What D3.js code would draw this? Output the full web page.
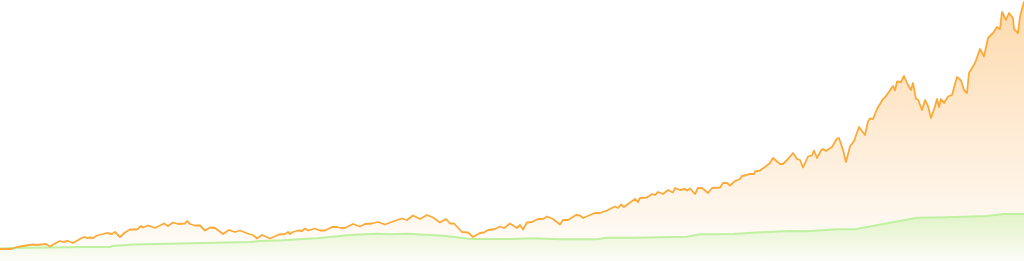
<!DOCTYPE html>
<html>
<head>
<meta charset="utf-8">
<script src="https://cdn.jsdelivr.net/npm/d3@7"></script>
<style>
  html, body { margin: 0; padding: 0; background: #fff; overflow: hidden; }
  svg { display: block; }
</style>
</head>
<body>
<svg id="chart"></svg>
<script>
// week index of each sample
const valueWeeks = [0, 11, 17, 33, 37, 46, 50, 56, 60, 63, 68, 73, 80, 84, 87, 90, 93, 97, 103, 107, 112, 115, 120, 125,
  130, 137, 141, 143, 148, 155, 164, 168, 173, 178, 185, 187, 190, 195, 200, 205, 210, 215, 223, 229, 235, 240, 245, 249,
  253, 257, 262, 270, 279, 285, 288, 290, 293, 298, 302, 305, 308, 315, 320, 325, 332, 337, 341, 345, 353, 360, 365, 372,
  378, 385, 393, 402, 407, 413, 420, 427, 433, 440, 446, 450, 454, 462, 468, 473, 480, 484, 488, 495, 500, 504, 510, 517,
  520, 523, 527, 532, 538, 543, 547, 553, 560, 563, 568, 576, 580, 583, 590, 595, 600, 607, 615, 618, 621, 624, 628, 635,
  638, 640, 647, 652, 655, 658, 663, 668, 673, 675, 680, 685, 687, 690, 695, 698, 702, 708, 712, 720, 723, 727, 730, 735,
  740, 742, 747, 749, 754, 755, 760, 765, 770, 773, 777, 780, 783, 788, 793, 797, 800, 803, 808, 812, 814, 817, 821, 823,
  826, 832, 837, 839, 843, 846, 850, 854, 859, 865, 868, 870, 873, 877, 883, 885, 893, 895, 897, 901, 904, 908, 911, 913,
  916, 918, 922, 925, 928, 931, 935, 937, 939, 941, 944, 948, 952, 957, 961, 964, 967, 969, 975, 980, 984, 988, 993, 997,
  1000, 1002, 1006, 1009, 1013, 1014, 1018, 1020, 1024];

// portfolio value ($k)
const portfolioValue = [12, 12, 14, 16.5, 16, 17, 14.5, 18, 20, 19, 20, 18, 22, 24, 23, 23.5, 23, 25.5, 27, 28, 27, 29, 24, 28.5,
  31.5, 31.5, 35, 33.5, 35.5, 33, 37.5, 35, 38.5, 37, 37.5, 40, 37, 35.5, 35.5, 30.5, 33.5, 33, 27, 31, 29, 30.5, 28.5, 27,
  26, 22.5, 26, 22.5, 26.5, 27, 29, 27, 29, 30.5, 30, 32.5, 30.5, 32.5, 30.5, 30.5, 34, 34, 33, 33, 37, 34.5, 37, 37.5,
  39, 36.5, 39.5, 42.5, 41, 45.5, 42, 46, 43.5, 38.5, 42, 37.5, 37.5, 29, 28.5, 24, 28, 28.5, 31, 32, 34.5, 33, 37.5, 33,
  36, 31.5, 38.5, 39, 42, 42, 44.5, 42, 36.5, 41, 41, 46, 45.5, 43, 46, 48, 48, 50.5, 54.5, 53, 56.5, 54, 57, 62,
  59, 63, 63.5, 67, 66, 69, 67, 71, 68.5, 73, 71, 72, 70.5, 72.5, 67, 73, 73, 68, 73, 73.5, 78, 78, 75.5, 80,
  82, 85, 86, 87, 87, 89.5, 90.5, 94, 98, 103, 99.5, 97, 97, 102, 108, 102, 101, 93.5, 104.5, 105.5, 110.5, 103, 110.5, 112,
  110, 114, 122.5, 123, 111, 99, 114.5, 120, 134, 126, 139.5, 142.5, 142, 152, 162, 163.5, 175, 170.5, 179.5, 179, 185, 176, 171, 178,
  162, 161.5, 151, 161, 155, 143, 154.5, 162, 154, 162, 158, 164.5, 166, 184, 180.5, 171, 168, 188, 198, 212, 204.5, 223, 228, 234,
  232, 249, 241, 248, 243, 232, 228, 244.5, 259.5];

const contribWeeks = [0, 11, 85, 110, 112, 133, 250, 260, 283, 307, 317, 350, 377, 390, 407, 430, 443, 463, 470, 510, 533,
  560, 597, 607, 633, 660, 687, 700, 733, 760, 790, 807, 837, 855, 917, 947, 987, 1003, 1024];

// total contributed ($k)
const contributed = [12.5, 13, 14, 14, 15, 16.5, 19, 20, 20.7, 22.3, 22.7, 26, 27.3, 26.7, 27.3, 26, 25.3, 23, 22, 22, 22.7,
  21.7, 21.7, 23.3, 23.3, 23.7, 24.3, 26.7, 27, 28.7, 30, 29.7, 31.7, 31.7, 43.3, 43.7, 45, 47, 47];

const width = 1024, height = 261;

const svg = d3.select('#chart')
  .attr('width', width)
  .attr('height', height);

const x = d3.scaleLinear().domain([0, 1024]).range([0, width]);
const y = d3.scaleLinear().domain([0, 260]).range([height, 1]);

const valueData = valueWeeks.map((w, i) => ({ w, v: portfolioValue[i] }));
const contribData = contribWeeks.map((w, i) => ({ w, v: contributed[i] }));

const defs = svg.append('defs');

const gOrange = defs.append('linearGradient')
  .attr('id', 'gradOrange')
  .attr('gradientUnits', 'userSpaceOnUse')
  .attr('x1', 0).attr('x2', 0)
  .attr('y1', y(260)).attr('y2', y(0));
gOrange.append('stop').attr('offset', '0%').attr('stop-color', '#fba63a').attr('stop-opacity', 0.42);
gOrange.append('stop').attr('offset', '100%').attr('stop-color', '#fba63a').attr('stop-opacity', 0.02);

const gGreen = defs.append('linearGradient')
  .attr('id', 'gradGreen')
  .attr('gradientUnits', 'userSpaceOnUse')
  .attr('x1', 0).attr('x2', 0)
  .attr('y1', y(48)).attr('y2', y(0));
gGreen.append('stop').attr('offset', '0%').attr('stop-color', '#b4ee8e').attr('stop-opacity', 0.4);
gGreen.append('stop').attr('offset', '100%').attr('stop-color', '#b4ee8e').attr('stop-opacity', 0.03);

const area = d3.area()
  .x(d => x(d.w))
  .y0(y(0))
  .y1(d => y(d.v));

const line = d3.line()
  .x(d => x(d.w))
  .y(d => y(d.v));

svg.append('path')
  .datum(valueData)
  .attr('d', area)
  .attr('fill', 'url(#gradOrange)');

svg.append('path')
  .datum(contribData)
  .attr('d', area)
  .attr('fill', 'url(#gradGreen)');

svg.append('path')
  .datum(contribData)
  .attr('d', line)
  .attr('fill', 'none')
  .attr('stroke', '#bff1a0')
  .attr('stroke-width', 2);

svg.append('path')
  .datum(valueData)
  .attr('d', line)
  .attr('fill', 'none')
  .attr('stroke', '#fbaa3a')
  .attr('stroke-width', 1.8)
  .attr('stroke-linejoin', 'round');
</script>
</body>
</html>
